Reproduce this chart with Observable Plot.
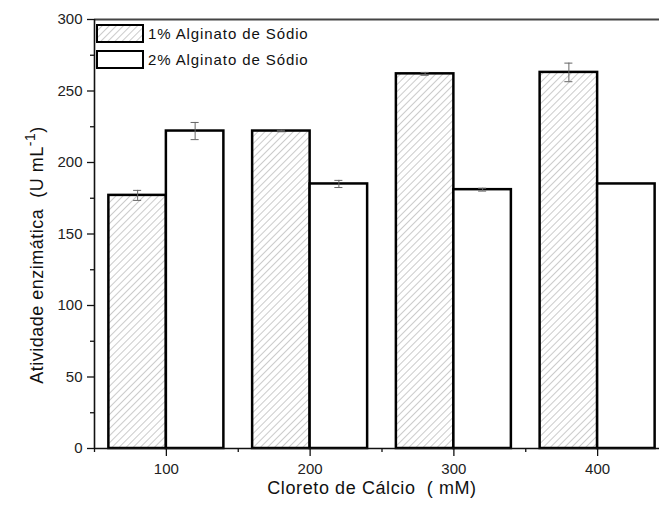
<!DOCTYPE html>
<html>
<head>
<meta charset="utf-8">
<script src="https://cdn.jsdelivr.net/npm/d3@7"></script>
<script src="https://cdn.jsdelivr.net/npm/@observablehq/plot@0.6"></script>
<style>
  html, body { margin: 0; padding: 0; background: #fff; overflow: hidden; }
  #chart svg { display: block; overflow: hidden; }
</style>
</head>
<body>
<div id="chart"></div>
<script>
// Calcium chloride concentrations (mM)
const concentracoes = [100, 200, 300, 400];
// Enzymatic activity (U mL-1) and its error, per alginate concentration
const atividade1 = [177, 222, 262, 263];
const erro1 = [3.5, 0.5, 1, 6.5];
const atividade2 = [222, 185, 181, 185];
const erro2 = [6, 2.5, 1, 0];
const series = ["1% Alginato de Sódio", "2% Alginato de Sódio"];
const yTicks = [0, 50, 100, 150, 200, 250, 300];
const yMinor = [25, 75, 125, 175, 225, 275];
const xMinor = [50, 150, 250, 350];

const barWidth = 40; // in mM
const capHalf = 2.8;

const rows = [];
concentracoes.forEach((c, i) => {
  rows.push({c, serie: series[0], lo: c - barWidth, hi: c, v: atividade1[i], e: erro1[i]});
  rows.push({c, serie: series[1], lo: c, hi: c + barWidth, v: atividade2[i], e: erro2[i]});
});
rows.forEach(d => { d.mid = (d.lo + d.hi) / 2; });
const withErr = rows.filter(d => d.e > 0);
const caps = withErr.flatMap(d => [{...d, y: d.v + d.e}, {...d, y: d.v - d.e}]);

const fillFor = d => d.serie === series[0] ? "url(#hatch)" : "white";

const font = "'Liberation Sans', Arial, sans-serif";

const svg = Plot.plot({
  width: 659,
  height: 521,
  marginLeft: 94, marginRight: 0, marginTop: 19, marginBottom: 73,
  style: {fontFamily: font, background: "white", overflow: "hidden"},
  x: {type: "linear", domain: [50, 450], range: [94, 669], axis: null},
  y: {domain: [0, 300], range: [448, 19], axis: null},
  marks: [
    Plot.rectY(rows, {x1: "lo", x2: "hi", y1: 0, y2: "v", fill: fillFor, stroke: "black", strokeWidth: 2.5}),
    // error bars
    Plot.ruleX(withErr, {x: "mid", y1: d => d.v - d.e, y2: d => d.v + d.e, stroke: "#666", strokeWidth: 1}),
    Plot.ruleY(caps, {y: "y", x1: d => d.mid - capHalf, x2: d => d.mid + capHalf, stroke: "#666", strokeWidth: 1}),
    // frame lines
    Plot.ruleY([300], {stroke: "#444", strokeWidth: 2}),
    Plot.ruleY([0], {stroke: "#111", strokeWidth: 1.6}),
    Plot.ruleX([50], {stroke: "#111", strokeWidth: 1.6}),
    // y axis
    Plot.axisY({ticks: yTicks, tickSize: 7, tickPadding: 5, fontSize: 15, stroke: "#111", strokeWidth: 1.3, fill: "#222", label: null}),
    Plot.axisY({ticks: yMinor, tickSize: 4, text: null, stroke: "#111", strokeWidth: 1.3, label: null}),
    // x axis
    Plot.axisX({ticks: concentracoes, tickSize: 8, tickPadding: 7, fontSize: 15, stroke: "#111", strokeWidth: 1.3, fill: "#222", label: null}),
    Plot.axisX({ticks: xMinor, tickSize: 4, text: null, stroke: "#111", strokeWidth: 1.3, label: null})
  ]
});

// hatch pattern for the 1% series
const defs = d3.select(svg).insert("defs", ":first-child");
const pat = defs.append("pattern")
  .attr("id", "hatch")
  .attr("patternUnits", "userSpaceOnUse")
  .attr("width", 5).attr("height", 5)
  .attr("patternTransform", "rotate(45)");
pat.append("rect").attr("width", 5).attr("height", 5).attr("fill", "white");
pat.append("line").attr("x1", 0).attr("y1", 0).attr("x2", 0).attr("y2", 5)
  .attr("stroke", "#a8a8a8").attr("stroke-width", 1.2);

const s = d3.select(svg);

// legend
const leg = s.append("g")
  .attr("font-family", font).attr("font-size", 15).attr("fill", "#111")
  .attr("text-anchor", "start").attr("letter-spacing", "0.9px");
series.forEach((name, i) => {
  const y0 = 25 + i * 26;
  leg.append("rect").attr("x", 97).attr("y", y0).attr("width", 46).attr("height", 17)
    .attr("fill", i === 0 ? "url(#hatch)" : "white").attr("stroke", "black").attr("stroke-width", 2);
  leg.append("text").attr("x", 148).attr("y", y0 + 8.5).attr("dy", "0.35em").text(name);
});

// axis titles
s.append("text")
  .attr("x", 372).attr("y", 494)
  .attr("text-anchor", "middle")
  .attr("font-family", font).attr("font-size", 18).attr("letter-spacing", "0.6px").attr("fill", "#111")
  .attr("xml:space", "preserve")
  .text("Cloreto de Cálcio  ( mM)");

const yt = s.append("text")
  .attr("transform", "translate(43,255) rotate(-90)")
  .attr("text-anchor", "middle")
  .attr("font-family", font).attr("font-size", 18).attr("letter-spacing", "0.5px").attr("fill", "#111")
  .attr("xml:space", "preserve");
yt.append("tspan").text("Atividade enzimática  (U mL");
yt.append("tspan").attr("dy", -8).attr("font-size", 14).text("-1");
yt.append("tspan").attr("dy", 8).text(")");

document.getElementById("chart").appendChild(svg);
</script>
</body>
</html>
